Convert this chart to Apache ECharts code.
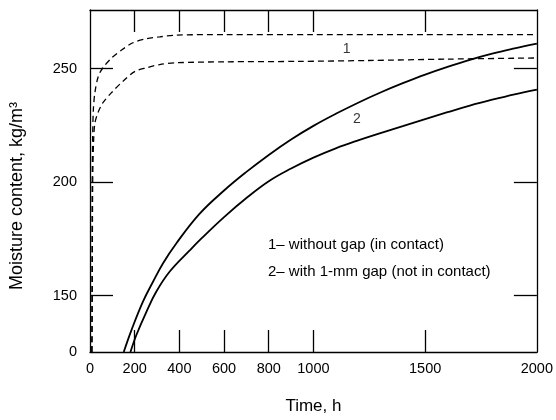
<!DOCTYPE html>
<html>
<head>
<meta charset="utf-8">
<script src="https://cdn.jsdelivr.net/npm/echarts@6/dist/echarts.min.js"></script>
<style>
html,body{margin:0;padding:0;background:#fff;}
#chart{width:556px;height:420px;}
</style>
</head>
<body>
<div id="chart"></div>
<script>
// ---- data (time in h, moisture content in kg/m3) ----
const xTickValues = [200, 400, 600, 800, 1000, 1500];
const xLabelValues = [0, 200, 400, 600, 800, 1000, 1500, 2000];
const yTickValues = [150, 200, 250];
const yLabelValues = [0, 150, 200, 250];

// curve 1 (without gap), upper dashed
const c1UpperTime = [8, 9, 10, 12, 15, 22, 37, 58, 98, 143, 192, 254, 312, 388, 600, 1000, 1500, 2000];
const c1UpperMoist = [0, 150, 200, 220, 232, 239.5, 246.6, 250.4, 254.8, 258.3, 261.4, 263.2, 264, 264.8, 265, 265, 265, 265];
// curve 1 (without gap), lower dashed
const c1LowerTime = [9, 10, 12, 16, 22, 36, 58, 97, 147, 200, 254, 312, 388, 600, 935, 1247, 1600, 2000];
const c1LowerMoist = [0, 150, 200, 218, 226, 230.7, 235, 239.5, 244.4, 248.7, 250.4, 251.8, 252.6, 253, 253.2, 253.6, 254.2, 254.7];
// curve 2 (1-mm gap), upper solid
const c2UpperTime = [151, 186, 237, 282, 327, 386, 490, 600, 700, 800, 900, 1000, 1100, 1200, 1300, 1400, 1500, 1600, 1700, 1800, 1900, 2000];
const c2UpperMoist = [0, 59, 134, 156.1, 164.3, 173, 186, 196.3, 204.5, 212, 218.8, 224.8, 230.1, 235, 239.5, 243.6, 247.4, 250.8, 253.9, 256.6, 258.9, 261];
// curve 2 (1-mm gap), lower solid
const c2LowerTime = [181, 208, 253, 297, 356, 445, 500, 600, 700, 800, 900, 1000, 1100, 1200, 1300, 1400, 1500, 1600, 1700, 1800, 1900, 2000];
const c2LowerMoist = [0, 45.8, 107.7, 151.8, 160.5, 169.8, 175.3, 184.6, 193, 200.4, 206, 210.8, 214.9, 218.4, 221.6, 224.7, 227.8, 230.8, 233.7, 236.3, 238.7, 240.8];

// curve labels
const curveLabelText = ['1', '2'];
const curveLabelTime = [1149, 1194];
const curveLabelMoist = [258.8, 227.7];

const noteLines = ['1\u2013 without gap (in contact)', '2\u2013 with 1-mm gap (not in contact)'];
const xAxisTitle = 'Time, h';
const yAxisTitle = 'Moisture content, kg/m\u00B3';

// ---- broken y axis: 0..150 compressed ----
const BREAK_AT = 150;
const BREAK_SPAN = 24.84; // axis units used for 0..150
function toAxis(v) {
  return v >= BREAK_AT ? v : BREAK_AT - (BREAK_AT - v) * (BREAK_SPAN / BREAK_AT);
}
const Y_MIN = toAxis(0);
const Y_MAX = 275.84;

function pairs(xs, ys) { return xs.map((x, i) => [x, toAxis(ys[i])]); }

const FONT = 'Liberation Sans';
const black = '#000';

const chart = echarts.init(document.getElementById('chart'), null, {renderer: 'canvas'});

const xCommon = {
  type: 'value', min: 0, max: 2000,
  axisLine: {show: true, onZero: false, lineStyle: {color: black, width: 1.3}},
  axisTick: {show: true, inside: true, length: 22, customValues: xTickValues, lineStyle: {color: black, width: 1.3}},
  splitLine: {show: false}
};
const yCommon = {
  type: 'value', min: Y_MIN, max: Y_MAX,
  axisLine: {show: true, onZero: false, lineStyle: {color: black, width: 1.3}},
  axisTick: {show: true, inside: true, length: 23, customValues: yTickValues, lineStyle: {color: black, width: 1.3}},
  splitLine: {show: false}
};

const yLabelPos = yLabelValues.map(toAxis);

chart.setOption({
  animation: false,
  backgroundColor: '#fff',
  textStyle: {fontFamily: FONT},
  grid: {left: 90, right: 17, top: 10, bottom: 66, containLabel: false},
  xAxis: [
    Object.assign({}, xCommon, {
      position: 'bottom',
      axisLabel: {show: true, customValues: xLabelValues, color: black, fontSize: 14.5, fontFamily: FONT, margin: 9,
                  formatter: function (v) { return String(Math.round(v)); }},
      name: xAxisTitle, nameLocation: 'middle', nameGap: 46,
      nameTextStyle: {color: black, fontSize: 17, fontFamily: FONT}
    }),
    Object.assign({}, xCommon, {position: 'top', axisLabel: {show: false}})
  ],
  yAxis: [
    Object.assign({}, yCommon, {
      position: 'left',
      axisLabel: {
        show: true, customValues: yLabelPos, color: black, fontSize: 14.5, fontFamily: FONT, margin: 13,
        formatter: function (v) {
          let best = 0, d = Infinity;
          yLabelValues.forEach(function (lv) { const dd = Math.abs(toAxis(lv) - v); if (dd < d) { d = dd; best = lv; } });
          return String(best);
        }
      }
    }),
    Object.assign({}, yCommon, {position: 'right', axisLabel: {show: false}})
  ],
  series: [
    {type: 'line', data: pairs(c1UpperTime, c1UpperMoist), smooth: 0.3, symbol: 'none',
     lineStyle: {color: black, width: 1.3, type: [6, 4]}},
    {type: 'line', data: pairs(c1LowerTime, c1LowerMoist), smooth: 0.3, symbol: 'none',
     lineStyle: {color: black, width: 1.3, type: [6, 4]}},
    {type: 'line', data: pairs(c2UpperTime, c2UpperMoist), smooth: 0.4, symbol: 'none',
     lineStyle: {color: black, width: 1.8}},
    {type: 'line', data: pairs(c2LowerTime, c2LowerMoist), smooth: 0.4, symbol: 'none',
     lineStyle: {color: black, width: 1.8}},
    {type: 'scatter', symbolSize: 1, itemStyle: {color: 'rgba(0,0,0,0)'},
     data: curveLabelText.map((t, i) => ({name: t, value: [curveLabelTime[i], toAxis(curveLabelMoist[i])]})),
     label: {show: true, position: 'inside', formatter: '{b}', color: black, fontSize: 14, fontFamily: FONT}}
  ],
  graphic: noteLines.map((t, i) => ({
    type: 'text', left: 268, top: 237 + i * 27,
    style: {text: t, fill: black, fontSize: 15, fontFamily: FONT}
  })).concat([{
    type: 'text', x: 17, y: 196, rotation: Math.PI / 2,
    style: {text: yAxisTitle, fill: black, fontSize: 18, fontFamily: FONT, align: 'center', verticalAlign: 'middle'}
  }])
});
</script>
</body>
</html>
